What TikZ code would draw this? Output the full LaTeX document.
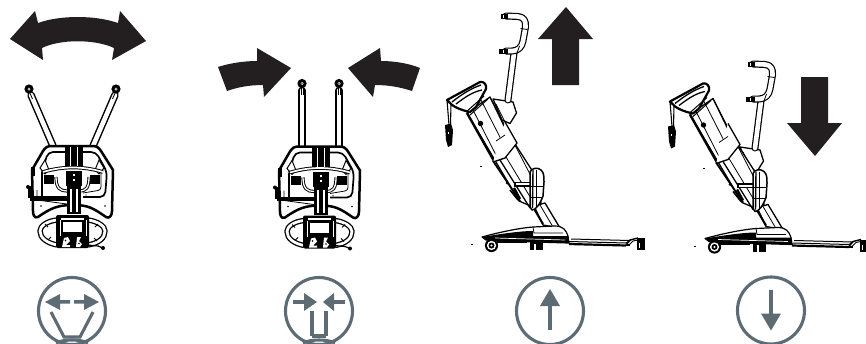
\documentclass[tikz,border=0pt]{standalone}
\definecolor{ink}{HTML}{231F20}
\definecolor{slate}{HTML}{5D6B75}
\tikzset{
  bigarrow/.style={fill=ink,draw=none},
  icon/.style={draw=slate,line width=3.1pt},
  iconfill/.style={fill=slate,draw=none},
  ln/.style={draw=black,line width=1.3pt,line join=round},
  thin line/.style={draw=black,line width=.8pt,line join=round},
  wfill/.style={fill=white,draw=black,line width=1.3pt,line join=round},
}
\newcommand{\tubepath}[3]{\draw[black,line width=#1pt,line cap=round,line join=round] #3; \draw[white,line width=#2pt,line cap=round,line join=round] #3;}
\newcommand{\frontlift}{%
  % frame
  \draw[black,line width=2.5pt,fill=white,line join=round] (-22,146) -- (20,146) .. controls (24,146) and (26,148) .. (28,151) -- (40,170) -- (39,211) .. controls (39,216) and (36,219) .. (33,217) .. controls (20,208) and (15,205) .. (0,205) .. controls (-15,205) and (-22,208) .. (-35,217) .. controls (-39,219) and (-40,214) .. (-40,211) -- (-41,170) -- (-30,151) .. controls (-28,148) and (-26,146) .. cycle;
  % seat inner
  \draw[black,line width=1.7pt,rounded corners=5pt] (-31,172) -- (-25,152) -- (23,152) -- (34,172) -- (32,197) -- (10,197);
  \draw[black,line width=1.4pt] (-31,172) -- (-31,196);
  \draw[black,line width=.8pt] (-36,190) -- (-36,200) -- (-6,204);
  \draw[black,line width=.8pt,rounded corners=3pt] (28,172) -- (28,190) -- (10,193);
  % side posts
  \draw[black,line width=1pt,fill=white] (-28,160) -- (-24,170) -- (-28,174) -- (-33,168) -- cycle;
  \draw[black,line width=1pt,fill=white] (26,160) -- (22,170) -- (26,174) -- (31,168) -- cycle;
  % crossbar
  \draw[black,line width=3.6pt] (-30,172) .. controls (-10,166) and (10,166) .. (30,172);
  \draw[white,line width=1.7pt] (-30,172) .. controls (-10,166) and (10,166) .. (30,172);
  % arm blocks
  \fill[black] (-29,175) rectangle (-19,184);
  \fill[black] (17,175) rectangle (27,184);
  \draw[black,line width=3.2pt] (-17,177) .. controls (-17,188) and (-13,191) .. (-6,191);
  \draw[white,line width=1.3pt] (-17,177) .. controls (-17,188) and (-13,191) .. (-6,191);
  \draw[black,line width=3.2pt] (16,177) .. controls (16,188) and (13,191) .. (6,191);
  \draw[white,line width=1.3pt] (16,177) .. controls (16,188) and (13,191) .. (6,191);
  % central column
  \fill[black] (-8,147) rectangle (10,166);
  \draw[white,line width=.9pt] (-3,147) -- (-3,166);
  \draw[white,line width=.9pt] (4,147) -- (4,166);
  \fill[black] (-7,171) rectangle (9,186);
  \fill[white] (0,174) rectangle (2,176);
  \fill[white] (0,179) rectangle (2,181);
  \fill[black] (-6,185) rectangle (8,214);
  \fill[white] (-3,189) rectangle (-1,212);
  \fill[white] (3,189) rectangle (5,212);
  % side bar and knob
  \fill[black] (-43,196) rectangle (-5,200.5);
  \fill[black] (-45,186) rectangle (-41,198);
  \fill[black] (-45,187) circle (2);
  \fill[black] (-38.5,167) rectangle (-42,176);
  \fill[black] (-32,206) circle (.8);
  \fill[black] (32,206) circle (.8);
  \fill[black] (13,195) circle (.7);
  % loop handle
  \draw[black,line width=5.4pt,line join=round] (-16,220) .. controls (-26,221) and (-33,226) .. (-33,231) .. controls (-33,238) and (-26,243) .. (-16,245);
  \draw[white,line width=2.8pt] (-16,220) .. controls (-26,221) and (-33,226) .. (-33,231) .. controls (-33,238) and (-26,243) .. (-16,245);
  \draw[black,line width=5.4pt,line join=round] (15,220) .. controls (24,221) and (32,226) .. (32,231) .. controls (32,238) and (26,243) .. (15,245);
  \draw[white,line width=2.8pt] (15,220) .. controls (24,221) and (32,226) .. (32,231) .. controls (32,238) and (26,243) .. (15,245);
  \draw[black,line width=.8pt] (-25,240) -- (-22,237);
  \draw[black,line width=.8pt] (-28,224) -- (-25,227);
  \draw[black,line width=.8pt] (25,224) -- (22,227);
  \draw[black,line width=.8pt] (24,241) -- (21,238);
  % control box
  \fill[black,rounded corners=2pt] (-17,215) rectangle (16,248);
  \fill[white] (-12,217.5) rectangle (11,219.5);
  \fill[white] (-10,222) rectangle (9,232);
  \fill[white] (-13.5,220) rectangle (-12.5,236);
  \fill[white] (12.5,220) rectangle (13.5,236);
  \fill[white] (-9,238) -- (-5,237) -- (-3,241) -- (-7,245) -- (-3,245) -- (-3,247) -- (-11,247) -- cycle;
  \fill[white] (4,237) -- (8,237) -- (6,241) -- (9,244) -- (7,247) -- (3,247) -- cycle;
  \fill[black] (-7.5,240.5) circle (.9);
  \fill[black] (6,243.5) circle (.9);
  \draw[black,line width=1.2pt] (14,245) -- (25,246) -- (30,248);
  \fill[black] (30,248) circle (2);
}
\newcommand{\knob}[2]{\fill[black] (#1,#2) circle (4.6); \fill[white] (#1,#2) circle (1.5); \fill[black] (#1,#2) circle (.6);}
\newcommand{\sidelift}{%
  % straps
  \draw[black,line width=1.1pt] (447,100) -- (449,125);
  \draw[black,line width=1.1pt] (451,104) -- (450.5,125);
  \fill[black] (445,125) -- (451,123.5) -- (453,130) -- (452,145) -- (448,147) -- (446,140) -- cycle;
  \fill[white] (447.5,132) rectangle (449,134);
  % boom
  \draw[wfill] (467,113) -- (490,97) -- (506,130) -- (535,175) -- (545,222) -- (533,207) -- (519,201) -- cycle;
  \draw[thin line] (490,97) -- (532,178);
  \draw[thin line] (481,100) -- (505,147);
  \draw[thin line] (473,110) -- (497,157);
  \draw[black,line width=2.4pt] (467,113) -- (494,161);
  \draw[wfill] (493,162) -- (505,158) -- (517,143) -- (505,122);
  \draw[thin line] (505,135) -- (496,141);
  \draw[black,line width=1.8pt] (493,161) -- (520,201);
  \draw[black,line width=1.3pt] (500,160) -- (530,208);
  \draw[thin line] (506,157) -- (535,205);
  \fill[black] (480.5,123.5) circle (2.7);
  \fill[black] (507,183) circle (1.5);
  \draw[black,line width=2.4pt] (514,188) -- (520,199);
  \draw[black,line width=1.5pt] (510,190) -- (518,200);
  % cradle
  \draw[black,line width=2.2pt,fill=white,line join=round] (447,100) -- (480,82) .. controls (484,81) and (487,85) .. (486,89) -- (476,107) -- (470,112) .. controls (460,110) and (452,106) .. (449,102) -- cycle;
  \draw[black,line width=1.3pt] (452,102) .. controls (462,94) and (472,88) .. (481,85);
  \draw[black,line width=1.3pt] (456,104) .. controls (464,98) and (472,92) .. (482,90);
  \draw[black,line width=1pt] (466,112) -- (484,96);
  \draw[black,line width=1pt] (470,115) -- (488,99);
  % lower mast
  \draw[wfill] (534,206) -- (545,203) -- (560,228) -- (543,225) -- cycle;
  \draw[thin line] (540,205) -- (553,227);
  \draw[black,line width=2pt] (533,207) -- (543,224);
  % paddle
  \fill[black] (514,181.5) rectangle (531,186.5);
  \fill[white] (516,183) rectangle (530,185);
  \draw[black,line width=1.5pt,fill=white,line join=round] (530,172) .. controls (531,168) and (538,167) .. (541,170) .. controls (544,173) and (544,176) .. (544,182) -- (543,196) .. controls (540,204) and (536,210) .. (532,210) -- (530,207) -- cycle;
  \draw[thin line] (536,170) -- (536,208);
  \draw[thin line] (530,186) -- (544,186);
  \draw[thin line] (530,197) -- (543,197);
  \draw[black,line width=1.4pt] (533,170) -- (532.5,208);
  % base
  \draw[black,line width=1.2pt,fill=white,line join=round] (482,237) .. controls (500,232) and (520,228) .. (533,227) -- (555,226) .. controls (563,226) and (566,230) .. (568,236) -- (569,243) -- (500,241) -- (486,240) -- cycle;
  \fill[black] (482,237) .. controls (500,234) and (520,231) .. (533,231) -- (533,236) -- (568,236) -- (569,243) -- (500,241) -- (486,240) -- cycle;
  \draw[white,line width=.7pt] (495,238) -- (565,240);
  \draw[thin line] (533,227) -- (534,233) -- (563,233);
  % rear leg
  \draw[black,line width=1pt,fill=white] (569,241.5) -- (626,243) -- (630,240.5) -- (571,239) ;
  \draw[black,line width=2.2pt] (569,244) -- (626,245.5);
  \draw[black,line width=1.4pt,line join=round] (626,245) -- (630,240) -- (638,238);
  \draw[black,line width=.9pt] (629,245) -- (633,241) -- (643,239);
  \fill[black] (637,238) rectangle (645,250);
  \fill[white] (638.5,243) rectangle (640,248);
  \fill[black] (626,244) rectangle (630,246);
  % wheels
  \fill[black] (530,242) rectangle (543,250);
  \fill[white] (534,243.5) rectangle (536,250);
  \fill[black] (497,241) rectangle (527,243);
  \fill[black] (491.5,245.5) circle (6.6);
  \fill[white] (491.5,245.5) circle (4.6);
  \fill[black] (491.5,245.5) circle (3);
  \fill[white] (491.5,245.5) circle (1.2);
  \fill[black] (480,166) rectangle (482,166.8);
  \fill[black] (471,244) rectangle (473,244.8);
}
\newcommand{\sidehandle}{%
  \draw[wfill] (493,99) -- (513,102) -- (516.5,113) -- (510,123.5) -- (502,120) -- cycle;
  \draw[thin line] (496,104) -- (505,122);
  \tubepath{7}{4.6}{(514,53) -- (508,100)}
  \tubepath{7}{4.6}{(506,16) -- (518,16.5) .. controls (524,17) and (526,21) .. (525.5,27) -- (523,41) .. controls (522,47) and (518,51) .. (512,51) -- (506,51)}
  \draw[black,line width=.8pt] (520.5,28.5) -- (527.5,29.5);
  \draw[black,line width=.8pt] (517,53) -- (519.5,46);
  \fill[black] (501,13.5) rectangle (508,19);
  \fill[black] (499,48.5) rectangle (508,54);
  \fill[white] (503,15) rectangle (504,17.5);
  \fill[white] (503,50) rectangle (504,52.5);
}
\newcommand{\iconring}{\draw[icon] (0,0) circle (33.5);}
\begin{document}
\begin{tikzpicture}[x=1pt,y=-1pt]
\useasboundingbox (0,0) rectangle (866,343);
\clip (0,0) rectangle (866,343);
\fill[white] (0,0) rectangle (866,343);

% big arrows
\fill[bigarrow] (10,39) -- (35,11) -- (38,23) .. controls (60,15) and (95,15) .. (118,23) -- (120,11) -- (146,41) -- (112,60) -- (114,48) .. controls (95,39) and (60,39) .. (42,48) -- (43,60) -- cycle;
\fill[bigarrow] (218,67) .. controls (230,63) and (245,61) .. (257,61) -- (257,48) -- (291,68) -- (264,97) -- (263,85) .. controls (250,85) and (238,87) .. (227,91) -- cycle;
\fill[bigarrow] (420,68) .. controls (408,63) and (393,61) .. (381,61) -- (380,48) -- (348,68) -- (373,97) -- (375,85) .. controls (388,85) and (400,87) .. (412,91) -- cycle;
\fill[bigarrow] (566,7) -- (593,39) -- (579,39) -- (579,85) -- (552,85) -- (552,39) -- (538,39) -- cycle;
\fill[bigarrow] (801,77) -- (828,77) -- (828,123) -- (842,123) -- (815,156) -- (787,123) -- (801,123) -- cycle;

% front lift 1
\begin{scope}[shift={(73,0)}]
  \tubepath{7.5}{4.6}{(-20,146) -- (-42,95)}
  \tubepath{7.5}{4.6}{(20,146) -- (42,95)}
  \knob{-44}{89}\knob{43}{89}
  \draw[black,line width=.8pt] (-43.5,92) -- (-40.5,99);
  \draw[black,line width=.8pt] (42.5,92) -- (39.5,99);
  \frontlift
\end{scope}
% front lift 2
\begin{scope}[shift={(320,.5)}]
  \tubepath{7.5}{4.6}{(-18,146) -- (-18,90)}
  \tubepath{7.5}{4.6}{(19,146) -- (19,90)}
  \knob{-18}{83}\knob{19}{83}
  \draw[black,line width=.8pt] (-19,87) -- (-19,94);
  \draw[black,line width=.8pt] (-17,87) -- (-17,94);
  \draw[black,line width=.8pt] (18,87) -- (18,94);
  \draw[black,line width=.8pt] (20,87) -- (20,94);
  \frontlift
\end{scope}

% side lifts
\sidehandle
\sidelift
\begin{scope}[shift={(247,48)}]
  \sidehandle
\end{scope}
\begin{scope}[shift={(223,1.5)}]
  \sidelift
\end{scope}

% icon 1
\begin{scope}[shift={(72,311)}]
  \iconring
  \fill[iconfill] (-27,-9) -- (-12,-17) -- (-12,-11) -- (-2,-11) -- (-2,-7.5) -- (-12,-7.5) -- (-12,-1) -- cycle;
  \fill[iconfill] (27,-9) -- (12,-17) -- (12,-11) -- (2,-11) -- (2,-7.5) -- (12,-7.5) -- (12,-1) -- cycle;
  \draw[icon] (-21,1) -- (-8,26) -- (8,26) -- (21,1);
  \draw[icon] (-16,32) .. controls (-8,28) and (8,28) .. (16,32);
\end{scope}
% icon 2
\begin{scope}[shift={(319,311)}]
  \iconring
  \draw[icon] (-26,-9) -- (-10,-9);
  \draw[icon] (26,-9) -- (10,-9);
  \fill[iconfill] (-2,-9) -- (-15,-18) -- (-15,0) -- cycle;
  \fill[iconfill] (4,-9) -- (15,-18) -- (15,0) -- cycle;
  \draw[icon] (-7,0) -- (-7,25);
  \draw[icon] (7,0) -- (7,25);
  \draw[icon] (-7,25) -- (7,25);
  \draw[icon] (-16,32) .. controls (-8,28) and (8,28) .. (16,32);
\end{scope}
% icon 3
\begin{scope}[shift={(550,311)}]
  \iconring
  \draw[icon] (0,-8) -- (0,19);
  \fill[iconfill] (0,-22) -- (10,-5) -- (-10,-5) -- cycle;
\end{scope}
% icon 4
\begin{scope}[shift={(771,310.5)}]
  \iconring
  \draw[icon] (0,-21) -- (0,6);
  \fill[iconfill] (0,20) -- (10,3) -- (-10,3) -- cycle;
\end{scope}
\end{tikzpicture}
\end{document}
